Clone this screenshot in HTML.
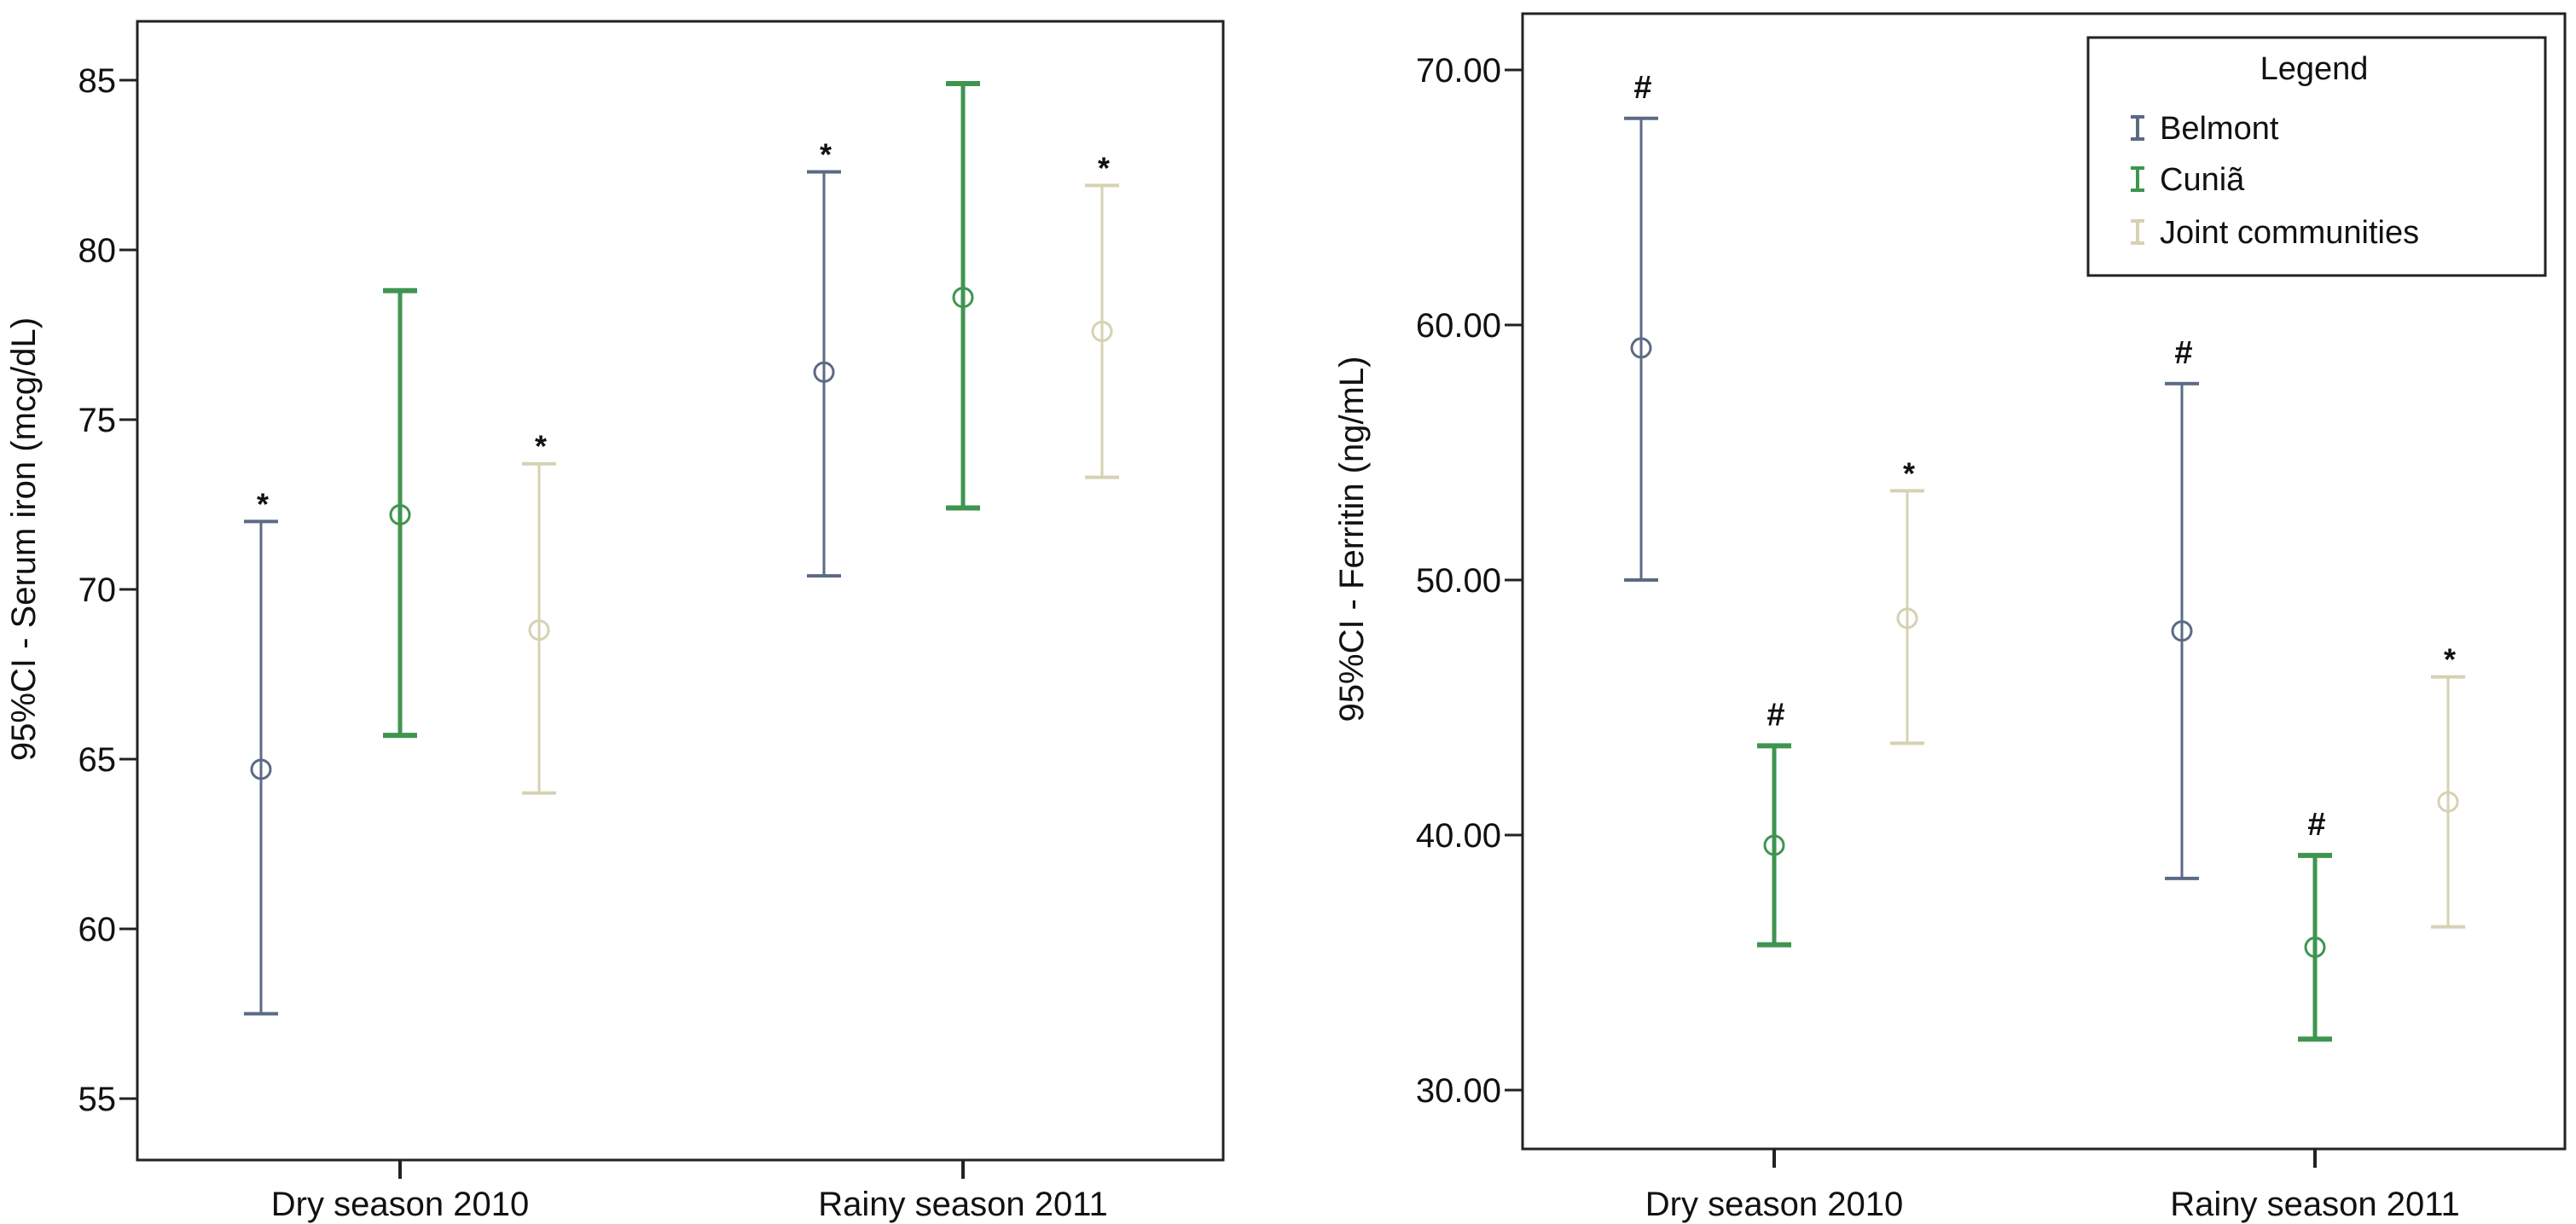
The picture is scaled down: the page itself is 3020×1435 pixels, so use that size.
<!DOCTYPE html>
<html><head><meta charset="utf-8">
<style>
html,body{margin:0;padding:0;background:#fff;}
svg{display:block;font-family:"Liberation Sans",Arial,sans-serif;}
</style></head>
<body>
<svg id="chart" width="3020" height="1435" viewBox="0 0 3020 1435" xmlns="http://www.w3.org/2000/svg">
<rect width="3020" height="1435" fill="#fff"/>
<g id="left"></g>
<g id="right"></g>
</svg>
<script>
// ---- data ----
const categories = ["Dry season 2010", "Rainy season 2011"];
const seriesNames = ["Belmont", "Cuniã", "Joint communities"];
// Serum iron (mcg/dL): [dry, rainy]
const ironMean = [[64.7, 76.4], [72.2, 78.6], [68.8, 77.6]];
const ironLow  = [[57.5, 70.4], [65.7, 72.4], [64.0, 73.3]];
const ironHigh = [[72.0, 82.3], [78.8, 84.9], [73.7, 81.9]];
const ironMarks = [["*", "*"], ["", ""], ["*", "*"]];
const ironTicks = [55, 60, 65, 70, 75, 80, 85];
// Ferritin (ng/mL)
const ferMean = [[59.1, 48.0], [39.6, 35.6], [48.5, 41.3]];
const ferLow  = [[50.0, 38.3], [35.7, 32.0], [43.6, 36.4]];
const ferHigh = [[68.1, 57.7], [43.5, 39.2], [53.5, 46.2]];
const ferMarks = [["#", "#"], ["#", "#"], ["*", "*"]];
const ferTicks = [30, 40, 50, 60, 70];

const colors = ["#5b6a84", "#3f9550", "#d5d2b3"];
const widths = [3, 5, 3];
const NS = "http://www.w3.org/2000/svg";
function mk(parent, tag, attrs, text){
  const e = document.createElementNS(NS, tag);
  for (const k in attrs) e.setAttribute(k, attrs[k]);
  if (text !== undefined) e.textContent = text;
  parent.appendChild(e); return e;
}

function panel(g, cfg){
  const {x0,x1,y0,y1,vTop,vBot,yTop,yBot,catX,offset,ticks,fmt,mean,low,high,marks,title,titleX} = cfg;
  const y = v => yTop + (vTop - v) * (yBot - yTop) / (vTop - vBot);
  const frame = mk(g,"rect",{x:x0,y:y0,width:x1-x0,height:y1-y0,fill:"none",stroke:"#222","stroke-width":3});
  
  
  ticks.forEach(t=>{
    const l = mk(g,"line",{x1:x0-21,x2:x0,y1:y(t),y2:y(t),stroke:"#222","stroke-width":3});
    
    
    const tx = mk(g,"text",{x:x0-25,y:y(t)+14,"text-anchor":"end","font-size":40,fill:"#111"},fmt(t));
    
    
  });
  categories.forEach((c,ci)=>{
    const l = mk(g,"line",{x1:catX[ci],x2:catX[ci],y1:y1,y2:y1+22,stroke:"#222","stroke-width":4});
    
    
    const tx = mk(g,"text",{x:catX[ci],y:1425,"text-anchor":"middle","font-size":40,fill:"#111"},c);
    
    
  });
  const tt = mk(g,"text",{x:0,y:0,"text-anchor":"middle","font-size":40,fill:"#111",transform:`translate(${titleX},632) rotate(-90)`},title);
  
  
  seriesNames.forEach((s,si)=>{
    categories.forEach((c,ci)=>{
      const cx = catX[ci] + (si-1)*offset;
      const col = colors[si], w = widths[si];
      const grp = mk(g,"g",{});
      
      
      mk(grp,"line",{x1:cx,x2:cx,y1:y(high[si][ci]),y2:y(low[si][ci]),stroke:col,"stroke-width":w});
      mk(grp,"line",{x1:cx-20,x2:cx+20,y1:y(high[si][ci]),y2:y(high[si][ci]),stroke:col,"stroke-width":w+1});
      mk(grp,"line",{x1:cx-20,x2:cx+20,y1:y(low[si][ci]),y2:y(low[si][ci]),stroke:col,"stroke-width":w+1});
      const pt = mk(grp,"circle",{cx:cx,cy:y(mean[si][ci]),r:11,fill:"none",stroke:col,"stroke-width":3});
      
      
      const m = marks[si][ci];
      if (m){
        const mt = mk(g,"text",{x:cx+2,y:y(high[si][ci]) - 24,"text-anchor":"middle","font-size":m==="#"?38:36,"font-weight":"bold",fill:"#111"},m);
        if (m==="*") mt.setAttribute("y", y(high[si][ci]) - 8);
        
        
      }
    });
  });
}

panel(document.getElementById("left"),{x0:161,x1:1434,y0:25,y1:1360,vTop:85,vBot:55,yTop:94,yBot:1288,
  catX:[469,1129],offset:163,ticks:ironTicks,fmt:t=>String(t),mean:ironMean,low:ironLow,high:ironHigh,marks:ironMarks,
  title:"95%CI - Serum iron (mcg/dL)",titleX:41});
panel(document.getElementById("right"),{x0:1785,x1:3007,y0:16,y1:1347,vTop:70,vBot:30,yTop:82,yBot:1278,
  catX:[2080,2714],offset:156,ticks:ferTicks,fmt:t=>t.toFixed(2),mean:ferMean,low:ferLow,high:ferHigh,marks:ferMarks,
  title:"95%CI - Ferritin (ng/mL)",titleX:1598});

// legend
const rg = document.getElementById("right");
const lg = mk(rg,"g",{});


mk(lg,"rect",{x:2448,y:44,width:536,height:279,fill:"#fff",stroke:"#222","stroke-width":3});
const lt = mk(lg,"text",{x:2713,y:93,"text-anchor":"middle","font-size":38,fill:"#111"},"Legend");


const legY = [163, 223, 285];
seriesNames.forEach((s,i)=>{
  const e = mk(lg,"g",{});
  
  
  const yy = legY[i];
  mk(e,"line",{x1:2506,x2:2506,y1:yy-26,y2:yy,stroke:colors[i],"stroke-width":4});
  mk(e,"line",{x1:2498,x2:2514,y1:yy-26,y2:yy-26,stroke:colors[i],"stroke-width":4});
  mk(e,"line",{x1:2498,x2:2514,y1:yy,y2:yy,stroke:colors[i],"stroke-width":4});
  mk(e,"text",{x:2532,y:yy,"font-size":38,fill:"#111"},s);
});
</script>
</body></html>
